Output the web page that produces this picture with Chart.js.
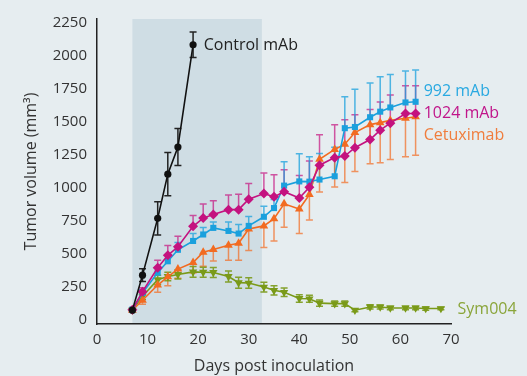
<!DOCTYPE html>
<html>
<head>
<meta charset="utf-8">
<script src="https://cdn.jsdelivr.net/npm/chart.js@4/dist/chart.umd.min.js"></script>
<style>
  html, body { margin: 0; padding: 0; background: #e6edf0; }
  #wrap { width: 527px; height: 376px; position: relative; }
</style>
</head>
<body>
<div id="wrap"><canvas id="c" width="527" height="376"></canvas></div>
<script>
// ---- data ----
const controlDays = [7, 9, 12, 14, 16, 19];
const controlVals = [75, 340, 770, 1105, 1310, 2085];
const controlErr  = [12, 48, 126, 163, 140, 96];

const mabDays = [7, 9, 12, 14, 16, 19, 21, 23, 26, 28, 30, 33, 35, 37, 40, 42, 44, 47, 49, 51, 54, 56, 58, 61, 63];
const mab992Vals = [80, 205, 359, 445, 532, 599, 648, 698, 675, 655, 713, 782, 848, 1018, 1050, 1048, 1064, 1089, 1453, 1462, 1536, 1578, 1610, 1648, 1653];
const mab992Err  = [10, 25, 40, 50, 55, 57, 52, 45, 67, 69, 72, 79, 65, 180, 210, 188, 198, 220, 238, 285, 260, 264, 250, 238, 240];
const mab1024Vals = [78, 215, 396, 490, 555, 710, 772, 800, 836, 836, 915, 958, 933, 972, 924, 1005, 1173, 1230, 1242, 1305, 1367, 1438, 1491, 1564, 1564];
const mab1024Err  = [10, 30, 57, 74, 80, 82, 106, 104, 111, 116, 119, 156, 168, 166, 170, 200, 230, 250, 275, 250, 228, 213, 213, 210, 210];
const cetuxVals = [75, 150, 265, 327, 386, 436, 514, 535, 566, 581, 690, 713, 767, 880, 841, 950, 1217, 1292, 1332, 1420, 1480, 1495, 1512, 1528, 1540];
const cetuxErr  = [10, 30, 54, 67, 70, 80, 106, 87, 114, 128, 163, 163, 168, 178, 186, 193, 247, 285, 290, 295, 297, 304, 297, 292, 292];

const symDays = [7, 9, 12, 14, 16, 19, 21, 23, 26, 28, 30, 33, 35, 37, 40, 42, 44, 47, 49, 51, 54, 56, 58, 61, 63, 65, 68];
const symVals = [75, 180, 305, 330, 345, 365, 362, 360, 330, 283, 280, 250, 225, 210, 163, 161, 128, 124, 124, 74, 99, 99, 91, 91, 91, 87, 87];
const symErr  = [10, 25, 35, 32, 35, 40, 38, 37, 42, 42, 40, 37, 35, 32, 28, 27, 24, 20, 20, 12, 16, 15, 14, 14, 14, 12, 10];

const xTicks = [0, 10, 20, 30, 40, 50, 60, 70];
const yTicks = [0, 250, 500, 750, 1000, 1250, 1500, 1750, 2000, 2250];
const treatmentWindow = [7, 32.6];

const seriesLabels = [
  { text: 'Control mAb', day: 21.1, value: 2079, color: '#222222' },
  { text: '992 mAb',     day: 64.6, value: 1730, color: '#29a9e1' },
  { text: '1024 mAb',    day: 64.6, value: 1566, color: '#c0158a' },
  { text: 'Cetuximab',   day: 64.6, value: 1396, color: '#f07d3d' },
  { text: 'Sym004',      day: 71.3, value: 82,   color: '#8aa53a' }
];

function pts(xs, ys) { return xs.map((x, i) => ({ x: x, y: ys[i] })); }

const FONT = "'Open Sans', 'Noto Sans', sans-serif";

const bgPlugin = {
  id: 'bg',
  beforeDraw(chart) {
    const { ctx, chartArea, scales } = chart;
    ctx.save();
    ctx.fillStyle = '#e6edf0';
    ctx.fillRect(0, 0, chart.width, chart.height);
    const x0 = scales.x.getPixelForValue(treatmentWindow[0]);
    const x1 = scales.x.getPixelForValue(treatmentWindow[1]);
    ctx.fillStyle = '#cfdde4';
    ctx.fillRect(x0, chartArea.top, x1 - x0, chartArea.bottom - chartArea.top);
    ctx.restore();
  }
};

const errPlugin = {
  id: 'errbars',
  beforeDatasetsDraw(chart) {
    const { ctx, scales } = chart;
    chart.data.datasets.forEach((ds, i) => {
      if (!ds.errors) return;
      ctx.save();
      ctx.strokeStyle = ds.errColor;
      ctx.lineWidth = 1.5;
      ds.data.forEach((p, j) => {
        const e = ds.errors[j];
        const x = scales.x.getPixelForValue(p.x);
        const yc = scales.y.getPixelForValue(p.y);
        const yt = scales.y.getPixelForValue(p.y + e);
        const yb = scales.y.getPixelForValue(p.y - e);
        const a = ds.errDir.includes('up') ? yt : yc;
        const b = ds.errDir.includes('down') ? yb : yc;
        ctx.beginPath();
        ctx.moveTo(x, a); ctx.lineTo(x, b);
        if (ds.errDir.includes('up')) { ctx.moveTo(x - 3.5, yt); ctx.lineTo(x + 3.5, yt); }
        if (ds.errDir.includes('down')) { ctx.moveTo(x - 3.5, yb); ctx.lineTo(x + 3.5, yb); }
        ctx.stroke();
      });
      ctx.restore();
    });
  }
};

const labelPlugin = {
  id: 'serieslabels',
  afterDatasetsDraw(chart) {
    const { ctx, scales } = chart;
    ctx.save();
    ctx.font = "16px " + FONT;
    ctx.textAlign = 'left';
    ctx.textBaseline = 'middle';
    seriesLabels.forEach(l => {
      ctx.fillStyle = l.color;
      ctx.fillText(l.text, scales.x.getPixelForValue(l.day), scales.y.getPixelForValue(l.value));
    });
    ctx.restore();
  }
};

function ds(label, xs, ys, errs, dir, color, errColor, style, radius, rot, order) {
  return {
    label, data: pts(xs, ys), errors: errs, errDir: dir, errColor,
    borderColor: color, backgroundColor: color, pointBackgroundColor: color,
    pointBorderColor: color, borderWidth: 1.6, pointStyle: style,
    pointRadius: radius, pointRotation: rot, pointBorderWidth: 0,
    tension: 0, order
  };
}

new Chart(document.getElementById('c'), {
  type: 'line',
  data: {
    datasets: [
      ds('Control mAb', controlDays, controlVals, controlErr, ['up', 'down'], '#111111', '#222222', 'circle', 3.6, 0, 0),
      ds('1024 mAb', mabDays, mab1024Vals, mab1024Err, ['up'], '#c4127f', 'rgba(196,18,127,0.7)', 'rectRot', 5, 0, 1),
      ds('992 mAb', mabDays, mab992Vals, mab992Err, ['up'], '#1aa0dd', 'rgba(26,160,221,0.75)', 'rect', 4.3, 0, 2),
      ds('Cetuximab', mabDays, cetuxVals, cetuxErr, ['down'], '#f26b21', 'rgba(242,107,33,0.7)', 'triangle', 5, 0, 3),
      ds('Sym004', symDays, symVals, symErr, ['up', 'down'], '#7a9a18', 'rgba(122,154,24,0.9)', 'triangle', 4.8, 180, 4)
    ]
  },
  options: {
    responsive: false,
    animation: false,
    devicePixelRatio: 1,
    layout: { padding: { top: 13, right: 76, left: 0, bottom: 0 } },
    plugins: { legend: { display: false }, tooltip: { enabled: false } },
    scales: {
      x: {
        type: 'linear', min: 0, max: 70,
        afterFit(s) { s.height = 52; },
        afterBuildTicks(s) { s.ticks = xTicks.map(v => ({ value: v })); },
        grid: { display: false, drawTicks: false },
        border: { display: true, color: '#222222', width: 1.5 },
        ticks: { color: '#333333', font: { family: FONT, size: 15 }, padding: 7, callback: v => String(v) },
        title: { display: true, text: 'Days post inoculation', color: '#333333', font: { family: FONT, size: 16 }, padding: { top: 0, bottom: 0 } }
      },
      y: {
        type: 'linear', min: -30, max: 2280,
        afterFit(s) { s.width = 97; },
        afterBuildTicks(s) { s.ticks = yTicks.map(v => ({ value: v })); },
        grid: { display: false, drawTicks: false },
        border: { display: true, color: '#222222', width: 1.5 },
        ticks: { color: '#333333', font: { family: FONT, size: 15 }, padding: 10, callback: v => String(v) },
        title: { display: true, text: 'Tumor volume (mm³)', color: '#333333', font: { family: FONT, size: 16 }, padding: { top: 22, bottom: 0 } }
      }
    }
  },
  plugins: [bgPlugin, errPlugin, labelPlugin]
});
</script>
</body>
</html>
